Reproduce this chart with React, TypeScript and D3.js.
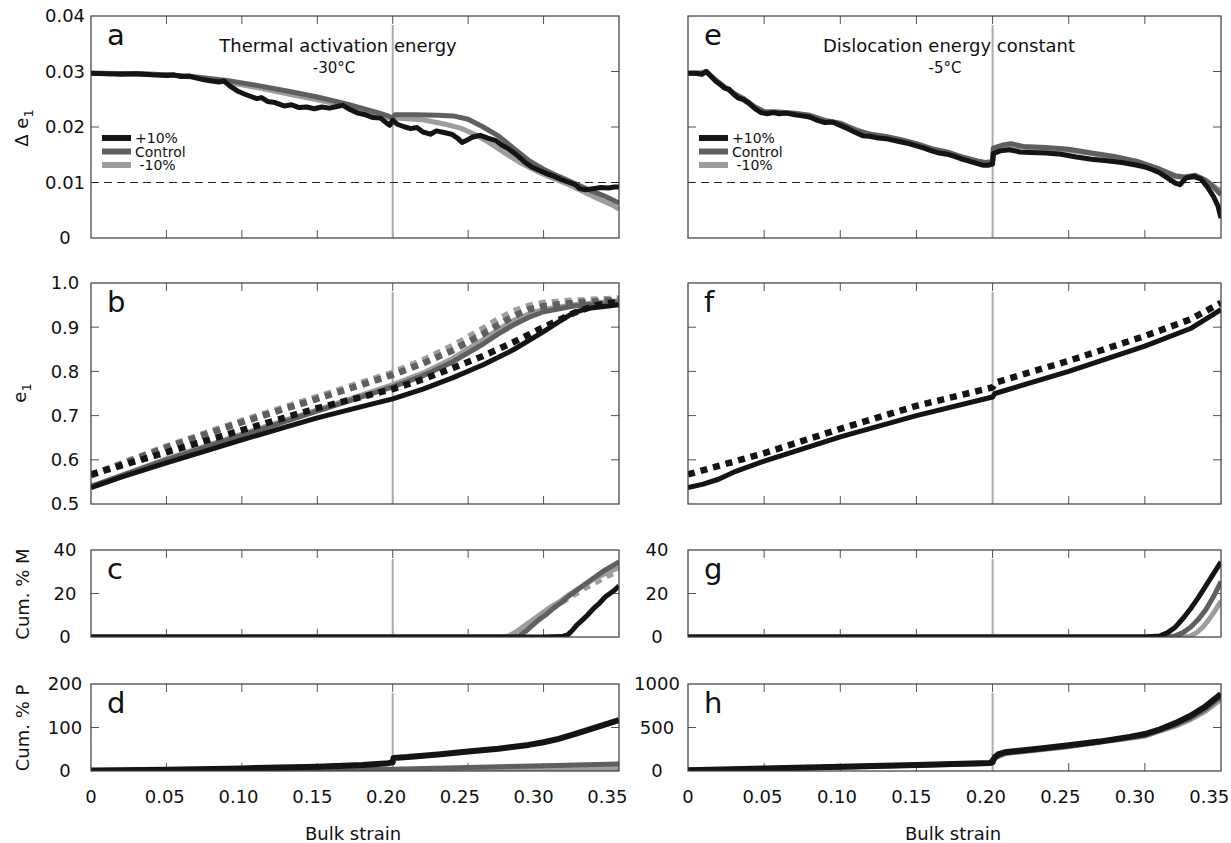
import React from 'react';
import * as d3 from 'd3';

type Pt = [number, number];

// strain axis
const strainTicks = [0, 0.05, 0.1, 0.15, 0.2, 0.25, 0.3, 0.35];
const strainTickLabels = ['0', '0.05', '0.10', '0.15', '0.20', '0.25', '0.30', '0.35'];
const legendLabels = ['+10%', 'Control', ' -10%'];
const breakStrain = 0.2;

// a: thermal activation energy, delta e1
const aPlus: Pt[] = [[0,0.0297],[0.01,0.0296],[0.02,0.0295],[0.03,0.0296],[0.04,0.0294],[0.05,0.0293],[0.055,0.0294],[0.06,0.0291],[0.065,0.0292],[0.07,0.0288],[0.075,0.0285],[0.08,0.0283],[0.085,0.0281],[0.088,0.0283],[0.092,0.0274],[0.097,0.0265],[0.102,0.0259],[0.106,0.0255],[0.11,0.0251],[0.113,0.0253],[0.117,0.0246],[0.122,0.0244],[0.128,0.0238],[0.133,0.024],[0.138,0.0235],[0.143,0.0236],[0.148,0.0233],[0.153,0.0236],[0.158,0.0234],[0.163,0.0237],[0.167,0.0239],[0.172,0.0231],[0.177,0.0225],[0.182,0.0222],[0.187,0.0217],[0.192,0.0216],[0.196,0.0207],[0.198,0.0203],[0.2,0.0212],[0.203,0.0205],[0.208,0.02],[0.212,0.0197],[0.216,0.0199],[0.22,0.0191],[0.225,0.0187],[0.229,0.0193],[0.234,0.019],[0.239,0.0187],[0.243,0.018],[0.246,0.0172],[0.249,0.0176],[0.253,0.0182],[0.258,0.0185],[0.263,0.018],[0.268,0.0176],[0.272,0.0168],[0.277,0.016],[0.282,0.015],[0.287,0.0138],[0.292,0.0128],[0.297,0.0122],[0.302,0.0116],[0.307,0.0111],[0.312,0.0105],[0.317,0.01],[0.321,0.0096],[0.324,0.0089],[0.328,0.0087],[0.333,0.0089],[0.338,0.0091],[0.343,0.009],[0.347,0.0092],[0.35,0.0092]];
const aCtrl: Pt[] = [[0,0.0297],[0.03,0.0296],[0.05,0.0294],[0.07,0.029],[0.09,0.0284],[0.11,0.0275],[0.13,0.0265],[0.15,0.0254],[0.17,0.0241],[0.19,0.0226],[0.197,0.022],[0.2,0.0216],[0.2015,0.0222],[0.215,0.0222],[0.23,0.0221],[0.24,0.022],[0.25,0.0214],[0.26,0.02],[0.27,0.0184],[0.28,0.0162],[0.29,0.014],[0.3,0.0124],[0.31,0.0111],[0.32,0.0099],[0.33,0.0087],[0.34,0.0076],[0.35,0.0063]];
const aMinus: Pt[] = [[0,0.0297],[0.03,0.0296],[0.05,0.0294],[0.07,0.0289],[0.09,0.0281],[0.11,0.0271],[0.13,0.026],[0.15,0.0249],[0.17,0.0237],[0.19,0.0223],[0.2,0.0214],[0.2015,0.0216],[0.22,0.0213],[0.235,0.0205],[0.245,0.0198],[0.255,0.0186],[0.265,0.017],[0.275,0.0152],[0.285,0.0135],[0.295,0.0121],[0.305,0.0109],[0.315,0.0098],[0.325,0.0085],[0.335,0.0072],[0.345,0.006],[0.35,0.0052]];

// e: dislocation energy constant, delta e1
const ePlus: Pt[] = [[0,0.0297],[0.005,0.0297],[0.009,0.0295],[0.012,0.03],[0.015,0.0292],[0.018,0.0283],[0.021,0.0277],[0.024,0.027],[0.027,0.0268],[0.03,0.0259],[0.033,0.0252],[0.036,0.025],[0.04,0.0243],[0.044,0.0233],[0.048,0.0226],[0.052,0.0224],[0.056,0.0226],[0.06,0.0224],[0.065,0.0225],[0.07,0.0222],[0.075,0.022],[0.08,0.0218],[0.085,0.0212],[0.09,0.0208],[0.095,0.0209],[0.1,0.0203],[0.105,0.0197],[0.11,0.019],[0.115,0.0184],[0.12,0.0183],[0.125,0.018],[0.13,0.0179],[0.135,0.0176],[0.14,0.0173],[0.145,0.017],[0.15,0.0166],[0.155,0.0162],[0.16,0.0157],[0.165,0.0153],[0.17,0.0151],[0.175,0.0147],[0.18,0.0142],[0.185,0.0138],[0.19,0.0134],[0.194,0.0131],[0.197,0.0131],[0.2,0.0133],[0.2005,0.0152],[0.205,0.0157],[0.211,0.0159],[0.218,0.0155],[0.225,0.0154],[0.235,0.0153],[0.245,0.0151],[0.255,0.0146],[0.265,0.0142],[0.275,0.0139],[0.285,0.0136],[0.295,0.0131],[0.3,0.0128],[0.305,0.0123],[0.31,0.0117],[0.315,0.0108],[0.32,0.0099],[0.323,0.0096],[0.327,0.0108],[0.332,0.0111],[0.337,0.0106],[0.341,0.0092],[0.345,0.0075],[0.348,0.0058],[0.35,0.0036]];
const eCtrl: Pt[] = [[0,0.0297],[0.009,0.0296],[0.012,0.03],[0.018,0.0285],[0.024,0.0272],[0.03,0.0261],[0.036,0.0252],[0.044,0.0236],[0.05,0.0228],[0.06,0.0227],[0.07,0.0225],[0.08,0.0221],[0.09,0.0212],[0.1,0.0207],[0.11,0.0194],[0.12,0.0187],[0.13,0.0183],[0.14,0.0177],[0.15,0.017],[0.16,0.0161],[0.17,0.0155],[0.18,0.0146],[0.19,0.0139],[0.195,0.0136],[0.2,0.0138],[0.2005,0.0162],[0.206,0.0167],[0.212,0.017],[0.22,0.0165],[0.235,0.0163],[0.25,0.016],[0.265,0.0153],[0.28,0.0147],[0.295,0.0138],[0.31,0.0124],[0.32,0.0112],[0.326,0.011],[0.333,0.0113],[0.34,0.0104],[0.345,0.0092],[0.35,0.0078]];
const eMinus: Pt[] = [[0,0.0297],[0.012,0.0299],[0.018,0.0284],[0.03,0.026],[0.044,0.0235],[0.05,0.0227],[0.07,0.0224],[0.09,0.0211],[0.1,0.0206],[0.12,0.0186],[0.14,0.0176],[0.16,0.016],[0.18,0.0145],[0.195,0.0135],[0.2,0.0137],[0.2005,0.016],[0.211,0.0166],[0.235,0.0161],[0.25,0.0158],[0.265,0.0152],[0.28,0.0145],[0.295,0.0135],[0.31,0.0122],[0.32,0.011],[0.328,0.0109],[0.335,0.011],[0.342,0.01],[0.347,0.009],[0.35,0.0085]];

// b: e1, solid and dashed
const bPlus: Pt[] = [[0,0.537],[0.02,0.561],[0.05,0.593],[0.08,0.624],[0.1,0.645],[0.13,0.675],[0.15,0.695],[0.18,0.721],[0.2,0.738],[0.22,0.76],[0.24,0.786],[0.26,0.815],[0.28,0.849],[0.3,0.89],[0.31,0.912],[0.32,0.933],[0.33,0.943],[0.34,0.947],[0.35,0.951]];
const bPlusD: Pt[] = [[0,0.567],[0.05,0.617],[0.1,0.667],[0.15,0.717],[0.2,0.76],[0.22,0.782],[0.24,0.808],[0.26,0.835],[0.28,0.866],[0.3,0.9],[0.32,0.932],[0.335,0.95],[0.35,0.958]];
const bCtrl: Pt[] = [[0,0.54],[0.05,0.6],[0.1,0.655],[0.15,0.71],[0.2,0.765],[0.22,0.79],[0.24,0.822],[0.26,0.862],[0.27,0.885],[0.28,0.905],[0.29,0.922],[0.3,0.935],[0.32,0.948],[0.35,0.957]];
const bCtrlD: Pt[] = [[0,0.565],[0.05,0.628],[0.1,0.685],[0.15,0.738],[0.2,0.792],[0.22,0.818],[0.24,0.848],[0.26,0.885],[0.27,0.905],[0.28,0.925],[0.29,0.94],[0.3,0.948],[0.32,0.955],[0.35,0.962]];
const bMinus: Pt[] = [[0,0.54],[0.05,0.602],[0.1,0.658],[0.15,0.713],[0.2,0.77],[0.22,0.796],[0.24,0.83],[0.26,0.872],[0.27,0.895],[0.28,0.915],[0.29,0.93],[0.3,0.94],[0.32,0.951],[0.35,0.96]];
const bMinusD: Pt[] = [[0,0.565],[0.05,0.63],[0.1,0.688],[0.15,0.742],[0.2,0.797],[0.22,0.825],[0.24,0.858],[0.26,0.897],[0.27,0.918],[0.28,0.936],[0.29,0.948],[0.3,0.955],[0.32,0.96],[0.35,0.965]];

// f: e1
const fPlus: Pt[] = [[0,0.537],[0.01,0.545],[0.02,0.556],[0.03,0.572],[0.05,0.597],[0.1,0.652],[0.15,0.7],[0.2,0.742],[0.2015,0.75],[0.25,0.8],[0.3,0.857],[0.33,0.897],[0.35,0.94]];
const fPlusD: Pt[] = [[0,0.567],[0.05,0.615],[0.1,0.67],[0.15,0.722],[0.2,0.764],[0.202,0.775],[0.25,0.824],[0.3,0.88],[0.33,0.918],[0.35,0.955]];

// c: cumulative % M
const cPlus: Pt[] = [[0,0],[0.3,0],[0.312,0.2],[0.316,1],[0.319,3],[0.322,5.5],[0.326,8],[0.329,10],[0.333,13],[0.337,15.5],[0.341,18.5],[0.344,20],[0.347,21.5],[0.35,23.5]];
const cCtrl: Pt[] = [[0,0],[0.28,0],[0.284,0.5],[0.288,2.5],[0.292,5],[0.297,8],[0.302,10.5],[0.307,13.5],[0.312,16],[0.317,19],[0.322,21.5],[0.327,24],[0.333,27],[0.339,30],[0.345,32.5],[0.35,34.5]];
const cMinus: Pt[] = [[0,0],[0.272,0],[0.277,0.5],[0.282,2.5],[0.287,5],[0.292,7.5],[0.297,10],[0.303,13],[0.31,16],[0.317,19.5],[0.325,23],[0.333,26.5],[0.342,29.5],[0.35,32]];
const cMinusD: Pt[] = [[0,0],[0.275,0],[0.28,0.5],[0.285,2.5],[0.29,5],[0.296,8],[0.302,11],[0.31,14.5],[0.318,18],[0.326,21.5],[0.334,24.5],[0.342,27.5],[0.35,30]];

// d: cumulative % P
const dPlus: Pt[] = [[0,1],[0.05,3],[0.1,6],[0.15,10],[0.18,14],[0.197,18],[0.2,20],[0.2005,30],[0.21,32],[0.23,38],[0.25,45],[0.27,51],[0.29,60],[0.3,66],[0.31,74],[0.32,84],[0.33,95],[0.34,106],[0.35,117]];
const dCtrl: Pt[] = [[0,0],[0.1,1],[0.15,2],[0.2,4],[0.25,8],[0.3,12],[0.35,16]];
const dMinus: Pt[] = [[0,0],[0.15,1],[0.2,2],[0.25,3],[0.3,4],[0.35,5]];

// g: cumulative % M
const gPlus: Pt[] = [[0,0],[0.3,0],[0.31,0.5],[0.315,2],[0.32,4.5],[0.325,8.5],[0.33,13],[0.335,18],[0.34,23.5],[0.345,29],[0.35,34.5]];
const gCtrl: Pt[] = [[0,0],[0.315,0],[0.32,0.5],[0.325,2],[0.33,4.5],[0.335,8],[0.34,12.5],[0.345,18.5],[0.35,25.5]];
const gMinus: Pt[] = [[0,0],[0.326,0],[0.33,0.5],[0.334,2],[0.338,4.5],[0.342,8],[0.346,12],[0.35,16.5]];

// h: cumulative % P
const hPlus: Pt[] = [[0,10],[0.05,28],[0.1,50],[0.15,70],[0.198,92],[0.2,100],[0.2015,160],[0.204,195],[0.208,215],[0.214,228],[0.23,255],[0.25,295],[0.27,338],[0.29,392],[0.3,425],[0.31,480],[0.32,550],[0.33,635],[0.34,745],[0.35,885]];
const hCtrl: Pt[] = [[0,8],[0.1,45],[0.198,88],[0.201,150],[0.208,205],[0.25,285],[0.3,410],[0.32,530],[0.33,610],[0.34,715],[0.35,855]];
const hMinus: Pt[] = [[0,8],[0.1,44],[0.198,86],[0.201,145],[0.208,200],[0.25,280],[0.3,400],[0.32,515],[0.33,590],[0.34,690],[0.35,825]];

const BLACK = '#141414';
const DARK = '#5f5f5f';
const LIGHT = '#9d9d9d';
const FONT = 'DejaVu Sans, sans-serif';

interface Series { data: Pt[]; color: string; dashed?: boolean; width?: number }

interface PanelProps {
  id: string;
  x0: number; x1: number; y0: number; y1: number;
  yDomain: [number, number];
  yTicks: number[];
  yLabels?: string[];
  labelOffset: number;
  letter: string;
  series: Series[];
  refY?: number;
  title?: string;
  subtitle?: string;
  titleX?: number;
  legend?: boolean;
  xLabels?: boolean;
}

const Panel = (p: PanelProps) => {
  const x = d3.scaleLinear().domain([0, 0.35]).range([p.x0, p.x1]);
  // tick labels sit a little left of their ticks in the original
  const xl = d3.scaleLinear().domain([0, 0.35]).range([p.x0, p.x0 + (p.x1 - p.x0) * 0.978]);
  const y = d3.scaleLinear().domain(p.yDomain).range([p.y1, p.y0]);
  const line = d3.line<Pt>().x(d => x(d[0])).y(d => y(d[1]));
  const tick = 8;
  const inner = p.yTicks.filter(t => t > p.yDomain[0] && t < p.yDomain[1]);

  return (
    <g>
      <defs>
        <clipPath id={`clip-${p.id}`}>
          <rect x={p.x0} y={p.y0} width={p.x1 - p.x0} height={p.y1 - p.y0} />
        </clipPath>
      </defs>
      {/* ticks, inward on all four sides */}
      {strainTicks.slice(1, -1).map(t => (
        <g key={`xt${t}`} stroke="#555" strokeWidth={1}>
          <line x1={x(t)} x2={x(t)} y1={p.y0} y2={p.y0 + tick} />
          <line x1={x(t)} x2={x(t)} y1={p.y1} y2={p.y1 - tick} />
        </g>
      ))}
      {inner.map(t => (
        <g key={`yt${t}`} stroke="#555" strokeWidth={1}>
          <line x1={p.x0} x2={p.x0 + tick} y1={y(t)} y2={y(t)} />
          <line x1={p.x1} x2={p.x1 - tick} y1={y(t)} y2={y(t)} />
        </g>
      ))}
      {/* break marker */}
      <line x1={x(breakStrain)} x2={x(breakStrain)} y1={p.y0 + 9} y2={p.y1} stroke="#ababab" strokeWidth={2} />
      {p.refY !== undefined && (
        <line x1={p.x0} x2={p.x1} y1={y(p.refY)} y2={y(p.refY)} stroke="#222" strokeWidth={1} strokeDasharray="8,5" />
      )}
      <g clipPath={`url(#clip-${p.id})`}>
        {p.series.map((s, i) => (
          <path key={i} d={line(s.data) ?? ''} fill="none" stroke={s.color}
            strokeWidth={s.width ?? (s.dashed ? 6.5 : 5)}
            strokeDasharray={s.dashed ? '7,6' : undefined}
            strokeLinejoin="round" />
        ))}
      </g>
      <rect x={p.x0} y={p.y0} width={p.x1 - p.x0} height={p.y1 - p.y0} fill="none" stroke="#3a3a3a" strokeWidth={1.2} />
      {p.yLabels && p.yTicks.map((t, i) => (
        <text key={`yl${t}`} x={p.x0 - p.labelOffset} y={y(t)} dy="0.36em" textAnchor="middle"
          fontSize={18} fontFamily={FONT} fill="#111">{p.yLabels![i]}</text>
      ))}
      {p.xLabels && strainTicks.map((t, i) => (
        <text key={`xl${t}`} x={xl(t)} y={p.y1 + 32} textAnchor="middle"
          fontSize={18} fontFamily={FONT} fill="#111">{strainTickLabels[i]}</text>
      ))}
      <text x={p.x0 + 16} y={p.y0 + 29} fontSize={29} fontFamily={FONT} fill="#111">{p.letter}</text>
      {p.title && (
        <text x={p.titleX} y={p.y0 + 36} textAnchor="middle" fontSize={18} fontFamily={FONT} fill="#111">{p.title}</text>
      )}
      {p.subtitle && (
        <text x={(p.titleX ?? 0) - 4} y={p.y0 + 57} textAnchor="middle" fontSize={15} fontFamily={FONT} fill="#111">{p.subtitle}</text>
      )}
      {p.legend && [BLACK, DARK, LIGHT].map((c, i) => (
        <g key={`lg${i}`}>
          <line x1={p.x0 + 11} x2={p.x0 + 40} y1={p.y0 + 122 + i * 13.5} y2={p.y0 + 122 + i * 13.5} stroke={c} strokeWidth={6} />
          <text x={p.x0 + 44} y={p.y0 + 127 + i * 13.5} fontSize={14} fontFamily={FONT} fill="#111" style={{ whiteSpace: 'pre' }}>{legendLabels[i]}</text>
        </g>
      ))}
    </g>
  );
};

const L = { x0: 91, x1: 619 };
const R = { x0: 688, x1: 1221 };
const rowA = { y0: 16, y1: 238 };
const rowB = { y0: 283, y1: 504 };
const rowC = { y0: 550, y1: 637 };
const rowD = { y0: 684, y1: 771 };

const YLabel = ({ x, y, children }: { x: number; y: number; children: React.ReactNode }) => (
  <text transform={`translate(${x},${y}) rotate(-90)`} textAnchor="middle" fontSize={18} fontFamily={FONT} fill="#111">{children}</text>
);

export default function App() {
  return (
    <svg width={1231} height={843} style={{ position: 'absolute', left: 0, top: 0, background: '#fff' }}>
      <rect width={1231} height={843} fill="#fff" />
      <Panel id="a" {...L} {...rowA} yDomain={[0, 0.04]} yTicks={[0, 0.01, 0.02, 0.03, 0.04]}
        yLabels={['0', '0.01', '0.02', '0.03', '0.04']} labelOffset={26} letter="a"
        series={[{ data: aMinus, color: LIGHT }, { data: aCtrl, color: DARK }, { data: aPlus, color: BLACK }]}
        refY={0.01} title="Thermal activation energy" subtitle="-30°C" titleX={338} legend />
      <Panel id="e" {...R} {...rowA} yDomain={[0, 0.04]} yTicks={[0, 0.01, 0.02, 0.03, 0.04]} labelOffset={31} letter="e"
        series={[{ data: eMinus, color: LIGHT }, { data: eCtrl, color: DARK }, { data: ePlus, color: BLACK }]}
        refY={0.01} title="Dislocation energy constant" subtitle="-5°C" titleX={949} legend />
      <Panel id="b" {...L} {...rowB} yDomain={[0.5, 1]} yTicks={[0.5, 0.6, 0.7, 0.8, 0.9, 1]}
        yLabels={['0.5', '0.6', '0.7', '0.8', '0.9', '1.0']} labelOffset={26} letter="b"
        series={[
          { data: bMinus, color: LIGHT }, { data: bCtrl, color: DARK }, { data: bPlus, color: BLACK },
          { data: bMinusD, color: LIGHT, dashed: true }, { data: bCtrlD, color: DARK, dashed: true }, { data: bPlusD, color: BLACK, dashed: true },
        ]} />
      <Panel id="f" {...R} {...rowB} yDomain={[0.5, 1]} yTicks={[0.5, 0.6, 0.7, 0.8, 0.9, 1]} labelOffset={31} letter="f"
        series={[{ data: fPlus, color: BLACK }, { data: fPlusD, color: BLACK, dashed: true }]} />
      <Panel id="c" {...L} {...rowC} yDomain={[0, 40]} yTicks={[0, 20, 40]} yLabels={['0', '20', '40']} labelOffset={26} letter="c"
        series={[
          { data: cMinusD, color: LIGHT, dashed: true, width: 4 }, { data: cMinus, color: LIGHT }, { data: cCtrl, color: DARK }, { data: cPlus, color: BLACK },
        ]} />
      <Panel id="g" {...R} {...rowC} yDomain={[0, 40]} yTicks={[0, 20, 40]} yLabels={['0', '20', '40']} labelOffset={31} letter="g"
        series={[{ data: gMinus, color: LIGHT }, { data: gCtrl, color: DARK }, { data: gPlus, color: BLACK }]} />
      <Panel id="d" {...L} {...rowD} yDomain={[0, 200]} yTicks={[0, 100, 200]} yLabels={['0', '100', '200']} labelOffset={26} letter="d"
        series={[{ data: dMinus, color: LIGHT }, { data: dCtrl, color: DARK }, { data: dPlus, color: BLACK, width: 6 }]} xLabels />
      <Panel id="h" {...R} {...rowD} yDomain={[0, 1000]} yTicks={[0, 500, 1000]} yLabels={['0', '500', '1000']} labelOffset={31} letter="h"
        series={[{ data: hMinus, color: LIGHT }, { data: hCtrl, color: DARK }, { data: hPlus, color: BLACK, width: 6 }]} xLabels />

      <YLabel x={28} y={128}>Δ e<tspan dy={5} fontSize={13}>1</tspan></YLabel>
      <YLabel x={26} y={393}>e<tspan dy={5} fontSize={13}>1</tspan></YLabel>
      <YLabel x={29} y={594}>Cum. % M</YLabel>
      <YLabel x={29} y={728}>Cum. % P</YLabel>

      <text x={353} y={840} textAnchor="middle" fontSize={18} fontFamily={FONT} fill="#111">Bulk strain</text>
      <text x={953} y={840} textAnchor="middle" fontSize={18} fontFamily={FONT} fill="#111">Bulk strain</text>
    </svg>
  );
}
